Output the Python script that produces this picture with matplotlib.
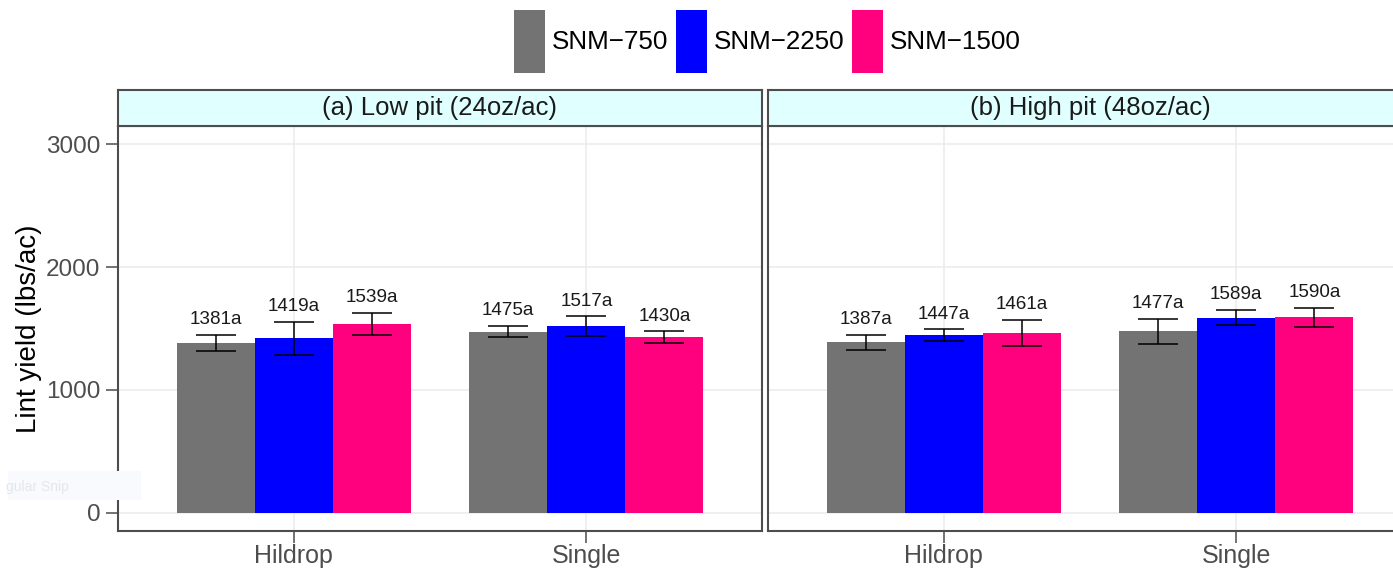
import numpy as np
import matplotlib.pyplot as plt
from matplotlib.patches import Patch, Rectangle

plt.rcParams['font.family'] = ['Liberation Sans', 'DejaVu Sans']

# planting method on the x axis, nitrogen rate as the dodged bars
methods = ['Hildrop', 'Single']
treatments = ['SNM\u2212750', 'SNM\u22122250', 'SNM\u22121500']
colors = ['#737373', '#0000FF', '#FF007F']
panels = ['(a) Low pit (24oz/ac)', '(b) High pit (48oz/ac)']

# mean lint yield per treatment (rows) and method (columns)
low_mean = [[1381, 1475], [1419, 1517], [1539, 1430]]
low_se = [[68, 48], [138, 81], [90, 46]]
low_letter = [['a', 'a'], ['a', 'a'], ['a', 'a']]

high_mean = [[1387, 1477], [1447, 1589], [1461, 1590]]
high_se = [[64, 100], [45, 62], [107, 81]]
high_letter = [['a', 'a'], ['a', 'a'], ['a', 'a']]

W, H = 1393, 570
fig = plt.figure(figsize=(W / 100, H / 100), dpi=100)

def fx(px):
    return px / W

def fy(py):
    return 1 - py / H

panel_left = [118, 768]
panel_w = 644
top, bottom, strip_top = 126, 531, 90
dodge = 0.8
bw = dodge / 3
x = np.arange(len(methods))

datasets = [(low_mean, low_se, low_letter), (high_mean, high_se, high_letter)]

for k, (means, ses, letters) in enumerate(datasets):
    ax = fig.add_axes([fx(panel_left[k]), fy(bottom), fx(panel_w), (bottom - top) / H])
    ax.set_axisbelow(True)
    for j in range(len(treatments)):
        pos = x + (j - 1) * bw
        ax.bar(pos, means[j], width=bw, color=colors[j], zorder=2)
        ax.errorbar(pos, means[j], yerr=ses[j], fmt='none', ecolor='black',
                    elinewidth=1.1, capsize=14.6, capthick=1.1, zorder=3)
        for p, m, s, l in zip(pos, means[j], ses[j], letters[j]):
            ax.annotate(f'{m}{l}', (p, m + s), xytext=(0, 5), textcoords='offset points',
                        ha='center', va='bottom', fontsize=13.6, color='#1A1A1A')
    ax.set_xlim(-0.6, len(methods) - 0.4)
    ax.set_ylim(-150, 3150)
    ax.set_xticks(x)
    ax.set_xticklabels(methods)
    ax.set_yticks([0, 1000, 2000, 3000])
    ax.grid(True, color='#EBEBEB', linewidth=1.1)
    ax.tick_params(axis='x', length=8.6, width=1.1, color='#4D4D4D', pad=1,
                   labelsize=18, labelcolor='#4D4D4D')
    ax.tick_params(axis='y', length=9, width=1.1, color='#4D4D4D', pad=3.6,
                   labelsize=17.5, labelcolor='#4D4D4D')
    for sp in ax.spines.values():
        sp.set_color('#4D4D4D')
        sp.set_linewidth(1.5)
    if k == 0:
        ax.set_ylabel('Lint yield (lbs/ac)', fontsize=20, color='black')
        ax.yaxis.set_label_coords((42 - 118) / panel_w, 0.5)
    else:
        ax.tick_params(axis='y', left=False, labelleft=False)

    # facet strip
    sx = fig.add_axes([fx(panel_left[k]), fy(top), fx(panel_w), (top - strip_top) / H])
    sx.set_facecolor('#E0FFFF')
    sx.set_xticks([])
    sx.set_yticks([])
    for sp in sx.spines.values():
        sp.set_color('#4D4D4D')
        sp.set_linewidth(1.5)
    sx.text(0.5, 0.5, panels[k], ha='center', va='center', fontsize=18.5,
            color='#1A1A1A', transform=sx.transAxes)

handles = [Patch(facecolor=c, edgecolor='none') for c in colors]
fig.legend(handles, treatments, loc='center', bbox_to_anchor=(fx(767.5), fy(41.5)),
           ncol=3, frameon=False, fontsize=18.7, handlelength=1.19, handleheight=3.35,
           handletextpad=0.27, columnspacing=0.3, borderpad=0, borderaxespad=0)

# faint snipping-tool leftover in the lower left corner
fig.add_artist(Rectangle((fx(8), fy(500)), fx(133), 29 / H, transform=fig.transFigure,
                         facecolor='#F8FAFD', edgecolor='none'))
fig.text(fx(6), fy(487), 'gular Snip', fontsize=10, color='#E3E7EC', va='center', ha='left')

fig.savefig('out.png', dpi=100)
